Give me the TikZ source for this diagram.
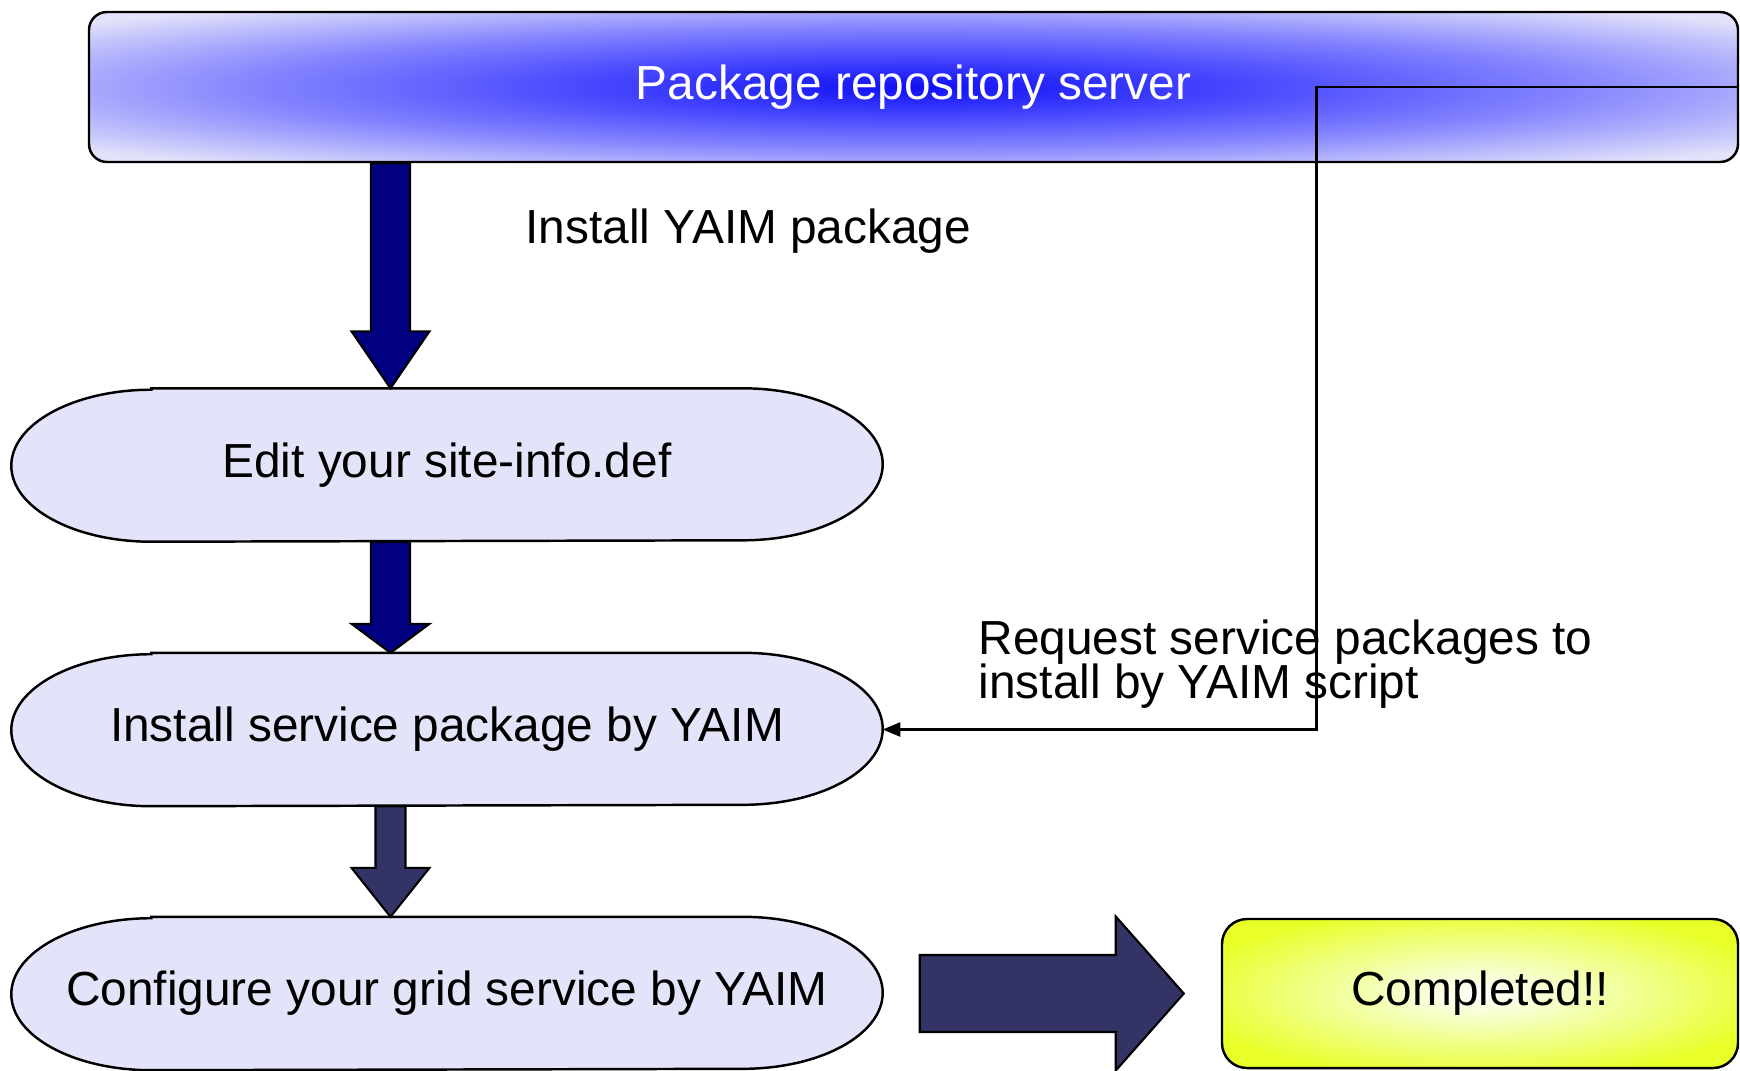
\documentclass[tikz,border=0pt]{standalone}
\usepackage{fontspec}
\setmainfont{Liberation Sans}
\usepackage{tikz}
\usetikzlibrary{arrows.meta}
\usetikzlibrary{calc}
\usetikzlibrary{backgrounds}

\definecolor{pillfill}{RGB}{227,227,250}
\definecolor{srvcore}{RGB}{15,15,245}
\definecolor{srvmida}{RGB}{72,72,255}
\definecolor{srvmidb}{RGB}{132,132,255}
\definecolor{srvedge}{RGB}{226,226,250}
\definecolor{donemid}{RGB}{246,255,200}
\definecolor{doneedge}{RGB}{232,255,40}
\definecolor{navyarrow}{RGB}{0,0,128}
\definecolor{slatearrow}{RGB}{51,51,102}

\pgfdeclareradialshading{srvglow}{\pgfpoint{0bp}{0bp}}{color(0bp)=(srvcore); color(10bp)=(srvmida); color(20bp)=(srvmidb); color(33bp)=(srvedge); color(50bp)=(srvedge)}
\pgfdeclareradialshading{doneglow}{\pgfpoint{0bp}{0bp}}{color(0bp)=(white); color(8bp)=(donemid); color(29bp)=(doneedge); color(50bp)=(doneedge)}

\newcommand{\reqlblfont}{\fontsize{13.6}{12.5}\selectfont\lineskiplimit=-10pt\relax}

\begin{document}
\begin{tikzpicture}[font=\fontsize{13.6}{15}\selectfont,
        server_style/.style={rectangle,rounded corners=0.18cm,draw=black,line width=0.7pt,shade,shading=srvglow,text=white,minimum width=16.49cm,minimum height=1.5cm},
        pill_node_style/.style={rectangle,minimum width=8.7cm,minimum height=1.52cm},
        pill_style/.style={draw=black,fill=pillfill,line width=0.7pt},
        done_style/.style={rectangle,rounded corners=0.25cm,draw=black,line width=0.7pt,shade,shading=doneglow,minimum width=5.16cm,minimum height=1.49cm},
        label_style/.style={inner sep=0pt},
        fat_arrow_style/.style={draw=black,line width=0.6pt,line join=miter},
        req_edge_style/.style={draw=black,line width=0.6pt,-{Triangle[length=5pt,width=4pt]}}]

        \useasboundingbox (0,0) rectangle (17.4,-10.7);

        \node [server_style] (server) at (9.135,-0.87) {Package repository server};

        \node [pill_node_style] (edit) at (4.47,-4.65) {Edit your site-info.def};

        \node [pill_node_style] (inst) at (4.47,-7.295) {Install service package by YAIM};

        \node [pill_node_style] (conf) at (4.47,-9.935) {Configure your grid service by YAIM};

        \node [done_style] (done) at (14.80,-9.935) {Completed!!};

        \node [label_style,anchor=base west] (yaimlbl) at (5.25,-2.43) {Install YAIM package};

        \node [label_style,anchor=north west,align=left,font=\reqlblfont] (reqlbl) at (9.78,-6.19) {Request service packages to\\install by YAIM script};

        \coordinate (axis) at (3.905,0);

        \coordinate (bend) at (13.165,-0.87);

        \begin{scope}[on background layer]
        \foreach \n in {edit,inst,conf}
            \draw [pill_style] ($(\n.north west)+(1.4,0)$) -- ($(\n.north east)+(-1.4,0)$)
                arc [start angle=90,end angle=-90,x radius=1.4,y radius=0.76]
                -- ($(\n.south west)+(1.4,0)$)
                arc [start angle=270,end angle=90,x radius=1.4,y radius=0.76] -- cycle;
        \end{scope}

        % block arrows down the left column
        \foreach \a/\b/\s/\h/\c in {server/edit/0.195/0.57/navyarrow,edit/inst/0.195/0.29/navyarrow,inst/conf/0.15/0.49/slatearrow}
            \draw [fat_arrow_style,fill=\c] let \p1=(\a.south -| axis), \p2=(\b.north -| axis) in
                (\x1-\s*1cm,\y1) -- (\x1+\s*1cm,\y1) -- (\x1+\s*1cm,\y2+\h*1cm) -- (\x1+0.39cm,\y2+\h*1cm)
                -- (\p2) -- (\x1-0.39cm,\y2+\h*1cm) -- (\x1-\s*1cm,\y2+\h*1cm) -- cycle;

        \draw [fat_arrow_style,fill=slatearrow] let \p1=($(conf.east)+(0.37,0)$), \p2=($(done.west)+(-0.37,0)$) in
            (\x1,\y1+0.385cm) -- (\x2-0.68cm,\y1+0.385cm) -- (\x2-0.68cm,\y1+0.77cm) -- (\p2)
            -- (\x2-0.68cm,\y1-0.77cm) -- (\x2-0.68cm,\y1-0.385cm) -- (\x1,\y1-0.385cm) -- cycle;

        \draw [req_edge_style] (server.east) -- (bend) |- (inst.east);

        \end{tikzpicture}
\end{document}
